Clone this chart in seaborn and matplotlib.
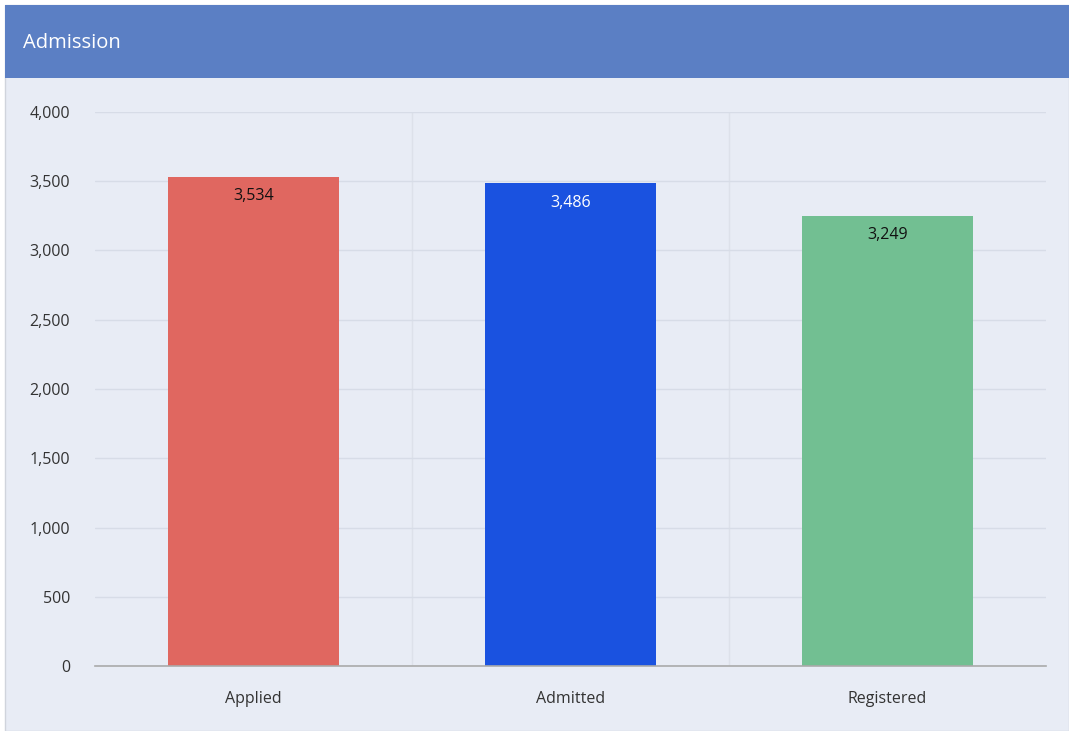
import matplotlib
matplotlib.use("Agg")
import matplotlib.pyplot as plt
import seaborn as sns
import pandas as pd
from matplotlib.patches import Rectangle
from matplotlib.ticker import FuncFormatter, MultipleLocator

categories = ["Applied", "Admitted", "Registered"]
values = [3534, 3486, 3249]
bar_colors = ["#E06760", "#1A52E0", "#72BF92"]
label_colors = ["#111111", "#FFFFFF", "#111111"]
title = "Admission"

sns.set_theme(style="white")
plt.rcParams['font.family'] = ['Open Sans', 'DejaVu Sans']

W, H = 1069, 731
fig = plt.figure(figsize=(W / 100, H / 100), dpi=100)
fig.patch.set_facecolor("#FFFFFF")

bg = "#E8ECF5"
# panel background
fig.patches.append(Rectangle((5 / W, 0), 1 - 5 / W, 1 - 5 / H, transform=fig.transFigure,
                             facecolor=bg, edgecolor="#D0D4DC", linewidth=1, zorder=-3))
# header
fig.patches.append(Rectangle((5 / W, 1 - 78 / H), 1 - 5 / W, 73 / H, transform=fig.transFigure,
                             facecolor="#5B7FC4", edgecolor="none", zorder=-2))
fig.text(23 / W, 1 - 43 / H, title, color="white", fontsize=14.5, va="center", ha="left")

ax = fig.add_axes([95 / W, 65 / H, 951 / W, 554 / H])
ax.set_facecolor(bg)

df = pd.DataFrame({"category": categories, "value": values})
sns.barplot(data=df, x="category", y="value", hue="category", palette=bar_colors,
            width=0.54, legend=False, ax=ax, saturation=1, zorder=3, linewidth=0)

ax.set_ylim(0, 4000)
ax.set_xlim(-0.5, 2.5)
ax.yaxis.set_major_locator(MultipleLocator(500))
ax.yaxis.set_major_formatter(FuncFormatter(lambda v, p: f"{int(v):,}"))
ax.grid(axis="y", color="#D7DCE7", linewidth=1, zorder=0)
for xb in [0.5, 1.5]:
    ax.axvline(xb, color="#DDE1EA", linewidth=1, zorder=0)

for s in ["top", "right", "left"]:
    ax.spines[s].set_visible(False)
ax.spines["bottom"].set_color("#AAAAAA")
ax.spines["bottom"].set_linewidth(1.2)
ax.spines["bottom"].set_zorder(4)

ax.set_xlabel("")
ax.set_ylabel("")
ax.tick_params(axis="y", length=0, pad=18, labelsize=11.5, labelcolor="#333333")
ax.tick_params(axis="x", length=0, pad=18, labelsize=11.5, labelcolor="#333333")

for i, bar in enumerate(ax.patches[:len(values)]):
    x = bar.get_x() + bar.get_width() / 2
    ax.annotate(f"{values[i]:,}", (x, bar.get_height()), xytext=(0, -14),
                textcoords="offset points", ha="center", va="center",
                color=label_colors[i], fontsize=11.5, zorder=5)

fig.savefig("out.png", dpi=100, facecolor=fig.get_facecolor())
